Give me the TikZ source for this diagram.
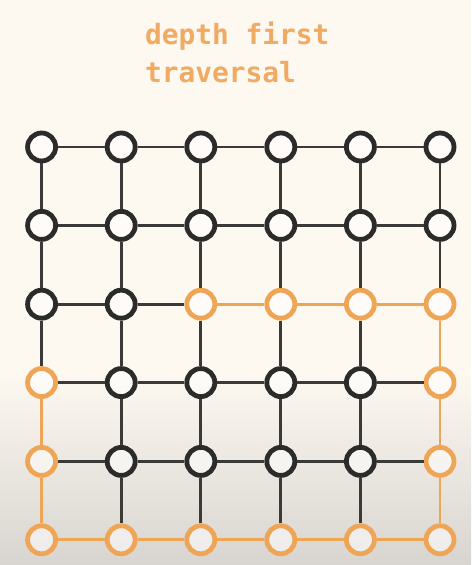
\documentclass[tikz,border=0pt]{standalone}
\usepackage{fontspec}
\usepackage{xcolor}
\newfontfamily\titlefont{DejaVu Sans Mono}
\definecolor{cream}{HTML}{FDF8F0}
\definecolor{bottomgrey}{HTML}{D8D5D0}
\definecolor{accent}{HTML}{EFA556}
\definecolor{titleorange}{HTML}{F0AA62}
\definecolor{ink}{HTML}{2B2B29}
\definecolor{edgeink}{HTML}{3A3A38}

\begin{document}
\begin{tikzpicture}[
  vtx/.style={circle, minimum size=0.7cm, inner sep=0pt, line width=0.12cm, draw=ink, fill=white, fill opacity=0.55, draw opacity=1},
  seen/.style={vtx, draw=accent},
  link/.style={line width=0.07cm, draw=edgeink},
  trail/.style={line width=0.07cm, draw=accent}
]
  \useasboundingbox (0cm,0cm) rectangle (11.775cm,14.125cm);
  \fill[cream] (0cm,4.8cm) rectangle (11.775cm,14.125cm);
  \shade[top color=cream, bottom color=bottomgrey] (0cm,0cm) rectangle (11.775cm,4.8cm);
  \node[anchor=base west, text=titleorange, inner sep=0pt] (title1) at (3.62cm,13.0cm) {\titlefont\bfseries\fontsize{19.8}{24}\selectfont depth first};
  \node[anchor=base west, text=titleorange, inner sep=0pt] (title2) at (3.62cm,12.05cm) {\titlefont\bfseries\fontsize{19.8}{24}\selectfont traversal};
  \node[vtx] (n11) at (1.04cm,10.45cm) {};
  \node[vtx] (n12) at (3.03cm,10.45cm) {};
  \node[vtx] (n13) at (5.02cm,10.45cm) {};
  \node[vtx] (n14) at (7.02cm,10.45cm) {};
  \node[vtx] (n15) at (9.01cm,10.45cm) {};
  \node[vtx] (n16) at (11.0cm,10.45cm) {};
  \node[vtx] (n21) at (1.04cm,8.49cm) {};
  \node[vtx] (n22) at (3.03cm,8.49cm) {};
  \node[vtx] (n23) at (5.02cm,8.49cm) {};
  \node[vtx] (n24) at (7.02cm,8.49cm) {};
  \node[vtx] (n25) at (9.01cm,8.49cm) {};
  \node[vtx] (n26) at (11.0cm,8.49cm) {};
  \node[vtx] (n31) at (1.04cm,6.52cm) {};
  \node[vtx] (n32) at (3.03cm,6.52cm) {};
  \node[seen] (n33) at (5.02cm,6.52cm) {};
  \node[seen] (n34) at (7.02cm,6.52cm) {};
  \node[seen] (n35) at (9.01cm,6.52cm) {};
  \node[seen] (n36) at (11.0cm,6.52cm) {};
  \node[seen] (n41) at (1.04cm,4.56cm) {};
  \node[vtx] (n42) at (3.03cm,4.56cm) {};
  \node[vtx] (n43) at (5.02cm,4.56cm) {};
  \node[vtx] (n44) at (7.02cm,4.56cm) {};
  \node[vtx] (n45) at (9.01cm,4.56cm) {};
  \node[seen] (n46) at (11.0cm,4.56cm) {};
  \node[seen] (n51) at (1.04cm,2.59cm) {};
  \node[vtx] (n52) at (3.03cm,2.59cm) {};
  \node[vtx] (n53) at (5.02cm,2.59cm) {};
  \node[vtx] (n54) at (7.02cm,2.59cm) {};
  \node[vtx] (n55) at (9.01cm,2.59cm) {};
  \node[seen] (n56) at (11.0cm,2.59cm) {};
  \node[seen] (n61) at (1.04cm,0.63cm) {};
  \node[seen] (n62) at (3.03cm,0.63cm) {};
  \node[seen] (n63) at (5.02cm,0.63cm) {};
  \node[seen] (n64) at (7.02cm,0.63cm) {};
  \node[seen] (n65) at (9.01cm,0.63cm) {};
  \node[seen] (n66) at (11.0cm,0.63cm) {};
  \draw[link] (n11) -- (n12);
  \draw[link] (n12) -- (n13);
  \draw[link] (n13) -- (n14);
  \draw[link] (n14) -- (n15);
  \draw[link] (n15) -- (n16);
  \draw[link] (n21) -- (n22);
  \draw[link] (n22) -- (n23);
  \draw[link] (n23) -- (n24);
  \draw[link] (n24) -- (n25);
  \draw[link] (n25) -- (n26);
  \draw[link] (n31) -- (n32);
  \draw[link] (n32) -- (n33);
  \draw[trail] (n33) -- (n34);
  \draw[trail] (n34) -- (n35);
  \draw[trail] (n35) -- (n36);
  \draw[link] (n41) -- (n42);
  \draw[link] (n42) -- (n43);
  \draw[link] (n43) -- (n44);
  \draw[link] (n44) -- (n45);
  \draw[link] (n45) -- (n46);
  \draw[link] (n51) -- (n52);
  \draw[link] (n52) -- (n53);
  \draw[link] (n53) -- (n54);
  \draw[link] (n54) -- (n55);
  \draw[link] (n55) -- (n56);
  \draw[trail] (n61) -- (n62);
  \draw[trail] (n62) -- (n63);
  \draw[trail] (n63) -- (n64);
  \draw[trail] (n64) -- (n65);
  \draw[trail] (n65) -- (n66);
  \draw[link] (n11) -- (n21);
  \draw[link] (n21) -- (n31);
  \draw[link] (n31) -- (n41);
  \draw[trail] (n41) -- (n51);
  \draw[trail] (n51) -- (n61);
  \draw[link] (n12) -- (n22);
  \draw[link] (n22) -- (n32);
  \draw[link] (n32) -- (n42);
  \draw[link] (n42) -- (n52);
  \draw[link] (n52) -- (n62);
  \draw[link] (n13) -- (n23);
  \draw[link] (n23) -- (n33);
  \draw[link] (n33) -- (n43);
  \draw[link] (n43) -- (n53);
  \draw[link] (n53) -- (n63);
  \draw[link] (n14) -- (n24);
  \draw[link] (n24) -- (n34);
  \draw[link] (n34) -- (n44);
  \draw[link] (n44) -- (n54);
  \draw[link] (n54) -- (n64);
  \draw[link] (n15) -- (n25);
  \draw[link] (n25) -- (n35);
  \draw[link] (n35) -- (n45);
  \draw[link] (n45) -- (n55);
  \draw[link] (n55) -- (n65);
  \draw[link] (n16) -- (n26);
  \draw[link] (n26) -- (n36);
  \draw[trail] (n36) -- (n46);
  \draw[trail] (n46) -- (n56);
  \draw[trail] (n56) -- (n66);
\end{tikzpicture}
\end{document}
